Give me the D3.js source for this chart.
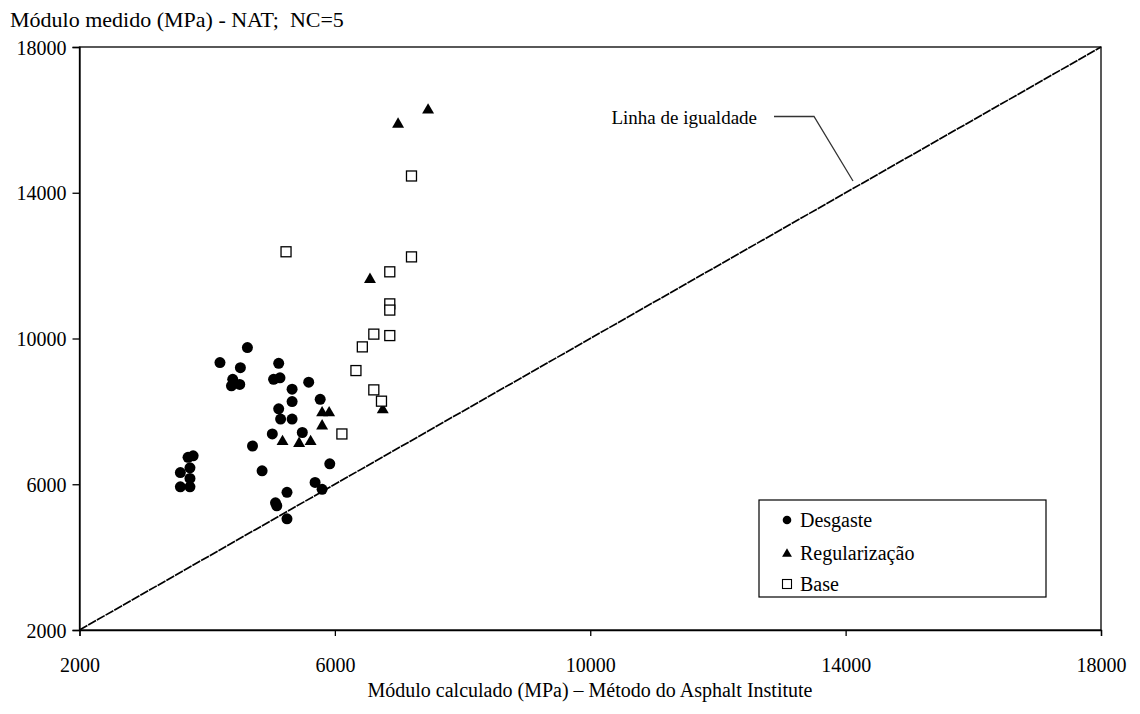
<!DOCTYPE html>
<html><head><meta charset="utf-8">
<script src="https://cdn.jsdelivr.net/npm/d3@7"></script>
<style>body{margin:0;background:#fff}svg{display:block}text{font-family:'Liberation Serif','Tinos','Times New Roman','DejaVu Serif','Noto Serif',serif !important;fill:#000}</style>
</head><body>
<svg id="c" width="1140" height="714"></svg>
<script>
const desgasteX = [4630,4200,4520,4400,4510,4380,5120,5040,5140,5590,5330,5330,5770,5120,5150,5330,5020,5490,4710,3780,3700,3730,3580,3730,3730,3580,4860,5920,5690,5800,5250,5070,5090,5250];
const desgasteY = [9750,9340,9200,8880,8740,8700,9320,8880,8920,8800,8610,8270,8330,8070,7790,7790,7380,7420,7050,6780,6740,6450,6320,6160,5930,5930,6370,6560,6050,5860,5780,5490,5410,5050];
const regX = [7460,6990,6550,6750,5800,5910,5800,5180,5440,5620];
const regY = [16270,15880,11620,8040,7960,7960,7600,7170,7120,7170];
const baseX = [5235,7200,7200,6860,6860,6860,6610,6860,6430,6330,6610,6730,6110];
const baseY = [12380,14460,12240,11830,10950,10780,10120,10080,9770,9120,8590,8280,7380];
const ticks = [2000,6000,10000,14000,18000];
const equality = [2000,18000];
const seriesNames = ["Desgaste","Regularização","Base"];

const FONT = "'Liberation Serif','Tinos','Times New Roman','DejaVu Serif','Noto Serif',serif";
const svg = d3.select("#c").attr("font-family",FONT);
const L=79.5,R=1101,T=47,B=630;
const x = d3.scaleLinear().domain([2000,18000]).range([L,R]);
const y = d3.scaleLinear().domain([2000,18000]).range([B,T]);

// frame
svg.append("rect").attr("x",L).attr("y",T).attr("width",R-L).attr("height",B-T)
  .attr("fill","none").attr("stroke","#000").attr("stroke-width",1.3);

// axes
const xa = svg.append("g").attr("transform",`translate(0,${B})`)
  .call(d3.axisBottom(x).tickValues(ticks).tickSize(6).tickPadding(22).tickFormat(d3.format("d")));
const ya = svg.append("g").attr("transform",`translate(${L},0)`)
  .call(d3.axisLeft(y).tickValues(ticks).tickSize(7).tickPadding(6).tickFormat(d3.format("d")));
[xa,ya].forEach(a=>{
  a.attr("font-family",FONT).attr("font-size",20);
  a.select(".domain").attr("stroke","#000").attr("stroke-width",1.3);
  a.selectAll(".tick line").attr("stroke","#000").attr("stroke-width",1.3);
  a.selectAll("text").attr("font-size",20);
});
ya.selectAll("text").attr("dy","0.36em");

// equality line
svg.append("line").attr("x1",x(equality[0])).attr("y1",y(equality[0]))
  .attr("x2",x(equality[1])).attr("y2",y(equality[1]))
  .attr("stroke","#000").attr("stroke-width",1.7).attr("stroke-dasharray","9,1");

// leader and label
svg.append("polyline").attr("points","774,116.5 814,116.5 853,181")
  .attr("fill","none").attr("stroke","#333").attr("stroke-width",1.3);
svg.append("text").attr("x",757).attr("y",124).attr("text-anchor","end").attr("font-size",19)
  .text("Linha de igualdade");

// points
const g = svg.append("g");
g.selectAll(".d").data(desgasteX.map((v,i)=>[v,desgasteY[i]])).join("circle")
  .attr("cx",d=>x(d[0])).attr("cy",d=>y(d[1])).attr("r",5.5).attr("fill","#000");
g.selectAll(".r").data(regX.map((v,i)=>[v,regY[i]])).join("path")
  .attr("d",d3.symbol(d3.symbolTriangle,62)())
  .attr("transform",d=>`translate(${x(d[0])},${y(d[1])})`).attr("fill","#000");
g.selectAll(".b").data(baseX.map((v,i)=>[v,baseY[i]])).join("rect")
  .attr("x",d=>x(d[0])-5).attr("y",d=>y(d[1])-5).attr("width",10).attr("height",10)
  .attr("fill","#fff").attr("stroke","#000").attr("stroke-width",1.3);

// legend
const lg = svg.append("g");
lg.append("rect").attr("x",759).attr("y",500).attr("width",287).attr("height",97)
  .attr("fill","#fff").attr("stroke","#000").attr("stroke-width",1.2);
const ly = [520,553,584];
lg.append("circle").attr("cx",787).attr("cy",ly[0]).attr("r",4.3).attr("fill","#000");
lg.append("path").attr("d",d3.symbol(d3.symbolTriangle,42)()).attr("transform",`translate(787,${ly[1]+1})`).attr("fill","#000");
lg.append("rect").attr("x",782.5).attr("y",ly[2]-4.5).attr("width",9).attr("height",9).attr("fill","#fff").attr("stroke","#000").attr("stroke-width",1.1);
seriesNames.forEach((n,i)=>lg.append("text").attr("x",800).attr("y",ly[i]).attr("dy","0.35em").attr("font-size",20).text(n));

// titles
svg.append("text").attr("x",10).attr("y",27).attr("font-size",22).style("white-space","pre").text("Módulo medido (MPa) - NAT;  NC=5");
svg.append("text").attr("x",590).attr("y",697).attr("text-anchor","middle").attr("font-size",20)
  .text("Módulo calculado (MPa) – Método do Asphalt Institute");
</script>
</body></html>
